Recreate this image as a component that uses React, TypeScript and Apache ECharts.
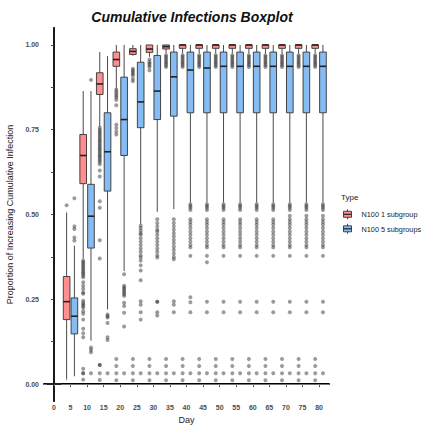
import React, { useEffect, useRef } from "react";
import * as echarts from "echarts";

// Sampling days (x axis)
const days = [0, 5, 10, 15, 20, 25, 30, 35, 40, 45, 50, 55, 60, 65, 70, 75, 80];

// N100 1 subgroup: whisker ends, quartiles and median per day
const redLow = [0, 0.013, 0.369, 0.758, 0.869, 0.968, 0.965, 0.975, 0.975, 0.975, 0.975, 0.975, 0.975, 0.975, 0.975, 0.975, 0.975];
const redQ1 = [0, 0.19, 0.591, 0.854, 0.937, 0.972, 0.978, 0.988, 0.99, 0.99, 0.99, 0.99, 0.99, 0.99, 0.99, 0.99, 0.99];
const redMed = [0, 0.243, 0.674, 0.885, 0.957, 0.981, 0.988, 0.995, 1, 1, 1, 1, 1, 1, 1, 1, 1];
const redQ3 = [0, 0.317, 0.736, 0.918, 0.979, 0.989, 1, 1, 1, 1, 1, 1, 1, 1, 1, 1, 1];
const redHigh = [0, 0.506, 0.864, 0.979, 1, 1, 1, 1, 1, 1, 1, 1, 1, 1, 1, 1, 1];

// N100 5 subgroups
const blueLow = [0, 0.023, 0.128, 0.22, 0.333, 0.471, 0.508, 0.516, 0.535, 0.535, 0.535, 0.535, 0.535, 0.535, 0.535, 0.535, 0.535];
const blueQ1 = [0, 0.148, 0.401, 0.569, 0.674, 0.756, 0.78, 0.79, 0.8, 0.8, 0.8, 0.8, 0.8, 0.8, 0.8, 0.8, 0.8];
const blueMed = [0, 0.2, 0.495, 0.685, 0.78, 0.832, 0.864, 0.906, 0.926, 0.932, 0.937, 0.937, 0.937, 0.937, 0.937, 0.937, 0.937];
const blueQ3 = [0, 0.254, 0.589, 0.8, 0.905, 0.949, 0.969, 0.979, 0.979, 0.979, 0.979, 0.979, 0.979, 0.979, 0.979, 0.979, 0.979];
const blueHigh = [0, 0.408, 0.864, 0.967, 1, 1, 1, 1, 1, 1, 1, 1, 1, 1, 1, 1, 1];

// Outlying runs per day
const redTail = [0.074, 0.053, 0.032, 0.011];
const redLate = [0.97, 0.965, 0.96, 0.955, 0.95, 0.945, 0.94, 0.935, ...redTail];
const redOutliers: number[][] = [
  [],
  [0.527],
  [0.364, 0.36, 0.355, 0.35, 0.345, 0.34, 0.335, 0.33, 0.325, 0.32, 0.315, 0.3, 0.29, 0.28, 0.27, 0.266, 0.246, 0.24, 0.235, 0.23, 0.225, 0.215, 0.207, 0.19, 0.163, 0.15, 0.138, 0.045, 0.032, 0.032, 0.013],
  [0.756, 0.75, 0.745, 0.74, 0.735, 0.73, 0.725, 0.72, 0.715, 0.71, 0.705, 0.7, 0.695, 0.69, 0.685, 0.68, 0.675, 0.67, 0.665, 0.66, 0.655, 0.648, 0.63, 0.612, 0.539, 0.52, 0.424, 0.37, 0.056, 0.056, 0.032, 0.012],
  [0.868, 0.862, 0.856, 0.85, 0.845, 0.838, 0.822, 0.765, 0.755, 0.745, 0.736, ...redTail],
  [0.93, 0.925, 0.92, 0.915, 0.91, 0.9, 0.893, ...redTail],
  [0.957, 0.95, 0.945, 0.94, 0.935, 0.925, ...redTail],
  redLate, redLate, redLate, redLate, redLate, redLate, redLate, redLate, redLate, redLate,
];

const blueMid = [0.53, 0.525, 0.52, 0.513, 0.486, 0.478, 0.47, 0.46, 0.45, 0.44, 0.43, 0.42, 0.41, 0.403, 0.378];
const blueOutliers: number[][] = [
  [],
  [0.548, 0.465, 0.457, 0.432, 0.423],
  [0.897, 0.108, 0.101, 0.094, 0.032],
  [0.205, 0.2, 0.196, 0.18, 0.138, 0.13, 0.032],
  [0.324, 0.29, 0.285, 0.28, 0.275, 0.27, 0.265, 0.26, 0.24, 0.23, 0.21, 0.17, 0.032],
  [0.467, 0.46, 0.452, 0.445, 0.44, 0.43, 0.42, 0.41, 0.4, 0.39, 0.38, 0.373, 0.364, 0.35, 0.335, 0.306, 0.244, 0.234, 0.212, 0.19, 0.032],
  [0.486, 0.475, 0.465, 0.455, 0.45, 0.44, 0.43, 0.42, 0.41, 0.4, 0.39, 0.38, 0.373, 0.243, 0.243, 0.212, 0.202, 0.032],
  [0.486, 0.475, 0.465, 0.455, 0.445, 0.435, 0.425, 0.415, 0.405, 0.395, 0.385, 0.375, 0.368, 0.244, 0.234, 0.212, 0.032],
  [...blueMid, 0.256, 0.241, 0.212, 0.032],
  [...blueMid, 0.359, 0.243, 0.212, 0.032],
  [...blueMid, 0.243, 0.212, 0.032],
  [...blueMid, 0.243, 0.212, 0.032],
  [...blueMid, 0.243, 0.212, 0.032],
  [...blueMid, 0.243, 0.212, 0.032],
  [...blueMid, 0.496, 0.243, 0.212, 0.032],
  [...blueMid, 0.496, 0.243, 0.212, 0.032],
  [...blueMid, 0.496, 0.243, 0.212, 0.032],
];

const groupNames = ["N100 1 subgroup", "N100 5 subgroups"];
const tickDays = days;
const yTicks = [0, 0.25, 0.5, 0.75, 1];
const yMinorTicks = [0, 0.125, 0.25, 0.375, 0.5, 0.625, 0.75, 0.875, 1];

const RED = "#FF8E8E";
const BLUE = "#85BCF3";
const FONT = "Liberation Sans";
const DODGE = 0.235; // fraction of the 5-day spacing
const BOX_HALF = 0.2;

function boxRows(low: number[], q1: number[], med: number[], q3: number[], high: number[]) {
  return days.map((d, i) => [d, low[i], q1[i], med[i], q3[i], high[i]]);
}

function outlierRows(list: number[][]) {
  const rows: number[][] = [];
  list.forEach((vals, i) => vals.forEach((v) => rows.push([days[i], v])));
  return rows;
}

function boxRenderer(side: number, fill: string) {
  return (_params: any, api: any) => {
    const day = api.value(0);
    const band = api.size([5, 0])[0];
    const xc = api.coord([day, 0])[0] + side * band * DODGE;
    const half = band * BOX_HALF;
    const y = (v: number) => api.coord([day, v])[1];
    const lo = y(api.value(1));
    const q1 = y(api.value(2));
    const md = y(api.value(3));
    const q3 = y(api.value(4));
    const hi = y(api.value(5));
    return {
      type: "group",
      children: [
        { type: "line", shape: { x1: xc, y1: hi, x2: xc, y2: q3 }, style: { stroke: "#4a4a4a", lineWidth: 1 } },
        { type: "line", shape: { x1: xc, y1: q1, x2: xc, y2: lo }, style: { stroke: "#4a4a4a", lineWidth: 1 } },
        {
          type: "rect",
          shape: { x: xc - half, y: q3, width: half * 2, height: q1 - q3 },
          style: { fill, stroke: "#333333", lineWidth: 0.9 },
        },
        { type: "line", shape: { x1: xc - half, y1: md, x2: xc + half, y2: md }, style: { stroke: "#222222", lineWidth: 1.6 } },
      ],
    };
  };
}

function dotRenderer(side: number) {
  return (_params: any, api: any) => {
    const day = api.value(0);
    const band = api.size([5, 0])[0];
    const p = api.coord([day, api.value(1)]);
    return {
      type: "circle",
      shape: { cx: p[0] + side * band * DODGE, cy: p[1], r: 2 },
      style: { fill: "rgba(45,45,45,0.48)" },
    };
  };
}

function legendKey(y: number, fill: string) {
  const x = 343.5;
  return [
    { type: "line", shape: { x1: x + 4, y1: y - 5, x2: x + 4, y2: y + 5 }, style: { stroke: "#4a4a4a", lineWidth: 1 } },
    { type: "rect", shape: { x, y: y - 3, width: 8, height: 6 }, style: { fill, stroke: "#333", lineWidth: 0.9 } },
    { type: "line", shape: { x1: x, y1: y, x2: x + 8, y2: y }, style: { stroke: "#222", lineWidth: 1.2 } },
  ];
}

export default function App() {
  const ref = useRef<HTMLDivElement>(null);

  useEffect(() => {
    if (!ref.current) return;
    const chart = echarts.init(ref.current, null, { renderer: "svg" });

    const axisLabel = { color: "#4d4d4d", fontSize: 7, fontFamily: FONT, fontWeight: "bold" as const };

    chart.setOption({
      animation: false,
      backgroundColor: "#ffffff",
      textStyle: { fontFamily: FONT },
      title: {
        text: "Cumulative Infections Boxplot",
        left: 187,
        top: 5,
        textAlign: "center",
        textStyle: { fontSize: 14, fontWeight: "bold", fontStyle: "italic", color: "#111", fontFamily: FONT },
      },
      grid: { left: 44, right: 97, top: 28, bottom: 24, containLabel: false, outerBoundsMode: "none" },
      xAxis: [
        {
          type: "value",
          min: -3,
          max: 83,
          name: "Day",
          nameLocation: "middle",
          nameGap: 13,
          nameTextStyle: { fontSize: 9, color: "#222", fontFamily: FONT },
          axisLine: { show: true, lineStyle: { color: "#000", width: 2 } },
          axisTick: { show: true, length: 3, customValues: tickDays, lineStyle: { color: "#333" } },
          axisLabel: { ...axisLabel, margin: 3, customValues: tickDays },
          splitLine: { show: false },
        },
        {
          type: "value",
          position: "top",
          min: -3,
          max: 83,
          axisLine: { show: true, lineStyle: { color: "#777", width: 1 } },
          axisTick: { show: true, inside: true, length: 2, customValues: tickDays, lineStyle: { color: "#777" } },
          axisLabel: { show: false },
          splitLine: { show: false },
        },
      ],
      yAxis: [
        {
          type: "value",
          min: -0.05,
          max: 1.05,
          name: "Proportion of Increasing Cumulative Infection",
          nameLocation: "middle",
          nameRotate: 90,
          nameGap: 27,
          nameTextStyle: { fontSize: 9, color: "#222", fontFamily: FONT },
          axisLine: { show: true, lineStyle: { color: "#000", width: 2 } },
          axisTick: { show: true, length: 3, customValues: yTicks, lineStyle: { color: "#333" } },
          axisLabel: { ...axisLabel, margin: 5, customValues: yTicks, formatter: (v: number) => v.toFixed(2) },
          splitLine: { show: false },
        },
        {
          type: "value",
          position: "right",
          min: -0.05,
          max: 1.05,
          axisLine: { show: true, lineStyle: { color: "#222", width: 1.5 } },
          axisTick: { show: true, inside: true, length: 3, customValues: yMinorTicks, lineStyle: { color: "#444" } },
          axisLabel: { show: false },
          splitLine: { show: false },
        },
      ],
      series: [
        {
          name: groupNames[0] + " outliers",
          type: "custom",
          renderItem: dotRenderer(-1),
          data: outlierRows(redOutliers),
          encode: { x: 0, y: 1 },
          z: 1,
        },
        {
          name: groupNames[1] + " outliers",
          type: "custom",
          renderItem: dotRenderer(1),
          data: outlierRows(blueOutliers),
          encode: { x: 0, y: 1 },
          z: 1,
        },
        {
          name: groupNames[0],
          type: "custom",
          renderItem: boxRenderer(-1, RED),
          data: boxRows(redLow, redQ1, redMed, redQ3, redHigh),
          encode: { x: 0, y: [1, 2, 3, 4, 5] },
          z: 2,
        },
        {
          name: groupNames[1],
          type: "custom",
          renderItem: boxRenderer(1, BLUE),
          data: boxRows(blueLow, blueQ1, blueMed, blueQ3, blueHigh),
          encode: { x: 0, y: [1, 2, 3, 4, 5] },
          z: 2,
        },
      ],
      graphic: [
        {
          type: "text",
          left: 341,
          top: 193,
          style: { text: "Type", fontSize: 8, fill: "#222", fontFamily: FONT },
        },
        ...legendKey(214.3, RED),
        ...legendKey(228.8, BLUE),
        {
          type: "text",
          x: 361.5,
          y: 214.5,
          style: { text: groupNames[0], fontSize: 7.3, fill: "#222", fontFamily: FONT, verticalAlign: "middle" },
        },
        {
          type: "text",
          x: 361.5,
          y: 229,
          style: { text: groupNames[1], fontSize: 7.3, fill: "#222", fontFamily: FONT, verticalAlign: "middle" },
        },
      ],
    });

    return () => chart.dispose();
  }, []);

  return <div ref={ref} style={{ position: "fixed", left: 0, top: 0, width: 426, height: 425 }} />;
}
